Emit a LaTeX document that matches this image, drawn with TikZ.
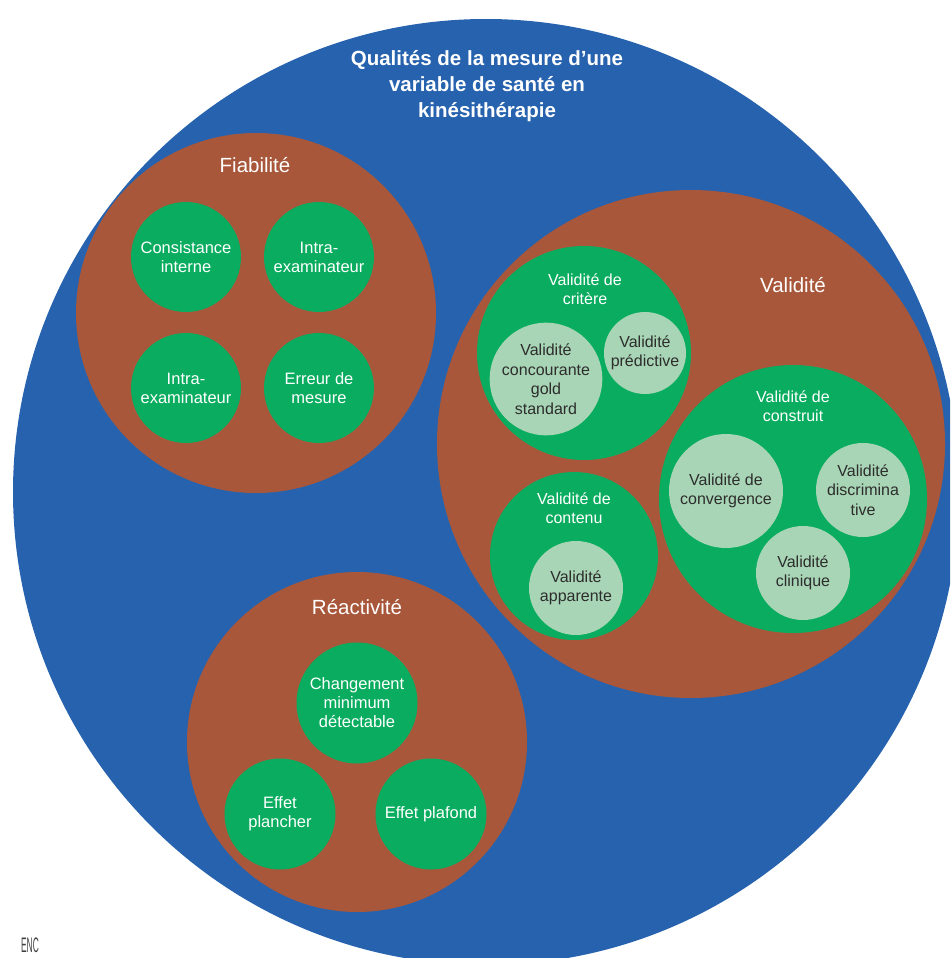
\documentclass[tikz,border=0pt]{standalone}
\usepackage{fontspec}
\setmainfont{Liberation Sans}
\definecolor{cblue}{RGB}{38,98,174}
\definecolor{cbrown}{RGB}{168,87,58}
\definecolor{cgreen}{RGB}{10,173,95}
\definecolor{clight}{RGB}{168,213,181}
\definecolor{cdark}{RGB}{45,45,45}
\tikzset{
  disc/.style={circle, inner sep=0pt, minimum size=#1},
  bigdisc/.style={disc=#1, fill=cblue},
  famdisc/.style={disc=#1, fill=cbrown},
  grndisc/.style={disc=#1, fill=cgreen, text=white, align=center, font=\fontsize{16.5}{19}\selectfont},
  lgtdisc/.style={disc=#1, fill=clight, text=cdark, align=center, font=\fontsize{16}{19.5}\selectfont},
  famtitle/.style={text=white, font=\fontsize{20.5}{24}\selectfont},
  subtitle/.style={text=white, align=center, font=\fontsize{16}{19}\selectfont},
}
\begin{document}
\begin{tikzpicture}[x=1pt,y=-1pt]
\useasboundingbox (0,0) rectangle (950,958);
\clip (0,0) rectangle (950,958);
% outer
\node[bigdisc=946pt] (qual) at (486,492) {};
\node[text=white, align=center, font=\bfseries\fontsize{20.5}{26}\selectfont] (qualt) at (487,86)
  {Qualités de la mesure d’une\\variable de santé en\\kinésithérapie};
% Fiabilite
\node[famdisc=360pt] (fiab) at (256,313) {};
\node[famtitle] (fiabt) at (255,165) {Fiabilité};
\node[grndisc=110pt] (cons) at (186,257) {Consistance\\interne};
\node[grndisc=110pt] (intra1) at (319,257) {Intra-\\examinateur};
\node[grndisc=110pt] (intra2) at (186,388) {Intra-\\examinateur};
\node[grndisc=110pt] (err) at (319,388) {Erreur de\\mesure};
% Validite
\node[famdisc=508pt] (val) at (691,444) {};
\node[famtitle] (valt) at (793,285) {Validité};
\node[grndisc=214pt] (crit) at (584,353) {};
\node[subtitle] (critt) at (585,289) {Validité de\\critère};
\node[lgtdisc=110pt] (conc) at (546,379) {Validité\\concourante\\gold\\standard};
\node[lgtdisc=82pt] (pred) at (645,353) {Validité\\prédictive};
\node[grndisc=268pt] (constr) at (793,499) {};
\node[subtitle] (constrt) at (793,406) {Validité de\\construit};
\node[lgtdisc=114pt] (conv) at (726,491) {Validité de\\convergence};
\node[lgtdisc=94pt] (disc) at (863,490) {Validité\\discrimina\\tive};
\node[lgtdisc=94pt] (clin) at (803,573) {Validité\\clinique};
\node[grndisc=168pt] (cont) at (574,556) {};
\node[subtitle] (contt) at (574,508) {Validité de\\contenu};
\node[lgtdisc=94pt] (app) at (576,588) {Validité\\apparente};
% Reactivite
\node[famdisc=340pt] (reac) at (357,742) {};
\node[famtitle] (react) at (357,607) {Réactivité};
\node[grndisc=121pt] (chg) at (357,703) {Changement\\minimum\\détectable};
\node[grndisc=111pt] (planch) at (280,814) {Effet\\plancher};
\node[grndisc=111pt] (plaf) at (431,814) {Effet plafond};
% logo
\node[text=black!75, inner sep=0pt] (logo) at (30,945) {\scalebox{0.6}[1.5]{\fontsize{14}{14}\selectfont ENC}};
\end{tikzpicture}
\end{document}
